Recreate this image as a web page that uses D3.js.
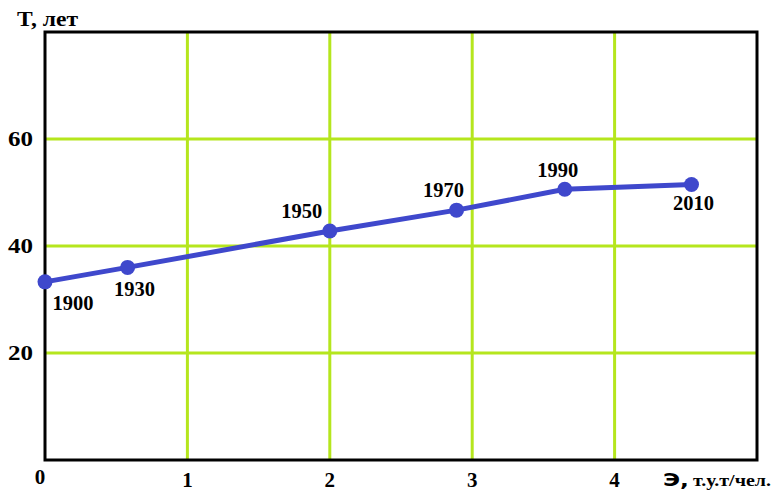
<!DOCTYPE html>
<html><head><meta charset="utf-8">
<script src="https://cdn.jsdelivr.net/npm/d3@7"></script>
<style>body{margin:0;background:#fff}svg{display:block}</style>
</head><body>
<script>
const years = ["1900","1930","1950","1970","1990","2010"];
const energy = [0, 0.58, 2.0, 2.89, 3.65, 4.54];
const lifespan = [33.3, 36.0, 42.8, 46.7, 50.6, 51.5];
const xTicks = [0,1,2,3,4];
const yTicks = [20,40,60];

// label placement relative to each point (layout only)
const labelDx = [28, 7, -28, -13, -7, 2];
const labelDy = [28, 29, -13, -13, -12, 26];

const W = 774, H = 491;
const L = 45, R = 757, T = 32, B = 460;
const svg = d3.select("body").append("svg").attr("width", W).attr("height", H);
const x = d3.scaleLinear().domain([0,5]).range([L,R]);
const y = d3.scaleLinear().domain([0,80]).range([B,T]);
const serif = "'Liberation Serif','Times New Roman',serif";
const grid = "#b5e61d";

svg.selectAll("line.vg").data([1,2,3,4]).join("line")
  .attr("x1", d=>x(d)).attr("x2", d=>x(d)).attr("y1", T).attr("y2", B)
  .attr("stroke", grid).attr("stroke-width", 3);
svg.selectAll("line.hg").data(yTicks).join("line")
  .attr("y1", d=>y(d)).attr("y2", d=>y(d)).attr("x1", L).attr("x2", R)
  .attr("stroke", grid).attr("stroke-width", 3);

svg.append("rect").attr("x", L).attr("y", T).attr("width", R-L).attr("height", B-T)
  .attr("fill","none").attr("stroke","#000").attr("stroke-width",3);

const pts = energy.map((e,i)=>[e, lifespan[i]]);
svg.append("path").datum(pts)
  .attr("d", d3.line().x(d=>x(d[0])).y(d=>y(d[1])))
  .attr("fill","none").attr("stroke","#3f48cc").attr("stroke-width",5);
svg.selectAll("circle.pt").data(pts).join("circle")
  .attr("cx", d=>x(d[0])).attr("cy", d=>y(d[1])).attr("r", 7.5).attr("fill","#3f48cc");

svg.selectAll("text.yr").data(years).join("text")
  .attr("x", (d,i)=> x(energy[i]) + labelDx[i] - 20.5)
  .attr("y", (d,i)=> y(lifespan[i]) + labelDy[i])
  .attr("textLength", 41).attr("lengthAdjust","spacingAndGlyphs")
  .attr("font-family", serif).attr("font-weight","bold").attr("font-size",20).attr("fill","#000")
  .text(d=>d);

svg.selectAll("text.yt").data(yTicks).join("text")
  .attr("x", 8).attr("y", d=>y(d)+7)
  .attr("textLength", 25).attr("lengthAdjust","spacingAndGlyphs")
  .attr("font-family", serif).attr("font-weight","bold").attr("font-size",21).text(d=>d);
svg.selectAll("text.xt").data(xTicks).join("text")
  .attr("x", d=>x(d) + (d===0?-5:0)).attr("y", d=> d===0 ? 484 : 487).attr("text-anchor","middle")
  .attr("font-family", serif).attr("font-weight","bold").attr("font-size",21).text(d=>d);

svg.append("text").attr("x", 17).attr("y", 26)
  .attr("textLength", 61).attr("lengthAdjust","spacingAndGlyphs")
  .attr("font-family", serif).attr("font-weight","bold").attr("font-size",21).text("T, лет");

svg.append("text").attr("x", 663).attr("y", 486)
  .attr("textLength", 26).attr("lengthAdjust","spacingAndGlyphs")
  .attr("font-family","'DejaVu Sans',sans-serif").attr("font-weight","bold").attr("font-size",18).text("Э,");
svg.append("text").attr("x", 693).attr("y", 486)
  .attr("textLength", 78).attr("lengthAdjust","spacingAndGlyphs")
  .attr("font-family", serif).attr("font-weight","bold").attr("font-size",16).text("т.у.т/чел.");
</script>
</body></html>
